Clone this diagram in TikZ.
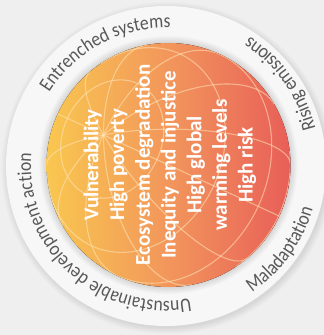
\documentclass[tikz,border=0pt]{standalone}
\usepackage{fontspec}
\setmainfont{Carlito}
\newfontfamily\ringfont[FakeStretch=0.88]{Carlito}
\usetikzlibrary{decorations.text}
\definecolor{bg}{RGB}{239,239,239}
\definecolor{ringfill}{RGB}{247,247,247}
\definecolor{ringtext}{RGB}{88,88,88}
\definecolor{gy}{RGB}{249,199,79}
\definecolor{go}{RGB}{242,150,92}
\definecolor{gr}{RGB}{232,94,88}
\definecolor{gridline}{RGB}{255,230,185}
\begin{document}
\begin{tikzpicture}[x=1pt,y=1pt,
  ringlabel/.style={decorate, decoration={text along path, text align=center,
     text={|\ringfont\fontsize{20}{22}\selectfont\color{ringtext}|#1}}},
  globeline/.style={draw=gridline, line width=1.1pt, opacity=0.55},
]
\path[fill=bg] (0,0) rectangle (324,335);
\path[use as bounding box] (0,0) rectangle (324,335);
\coordinate (O) at (166,169);
\coordinate (I) at (168.5,170);
% outer shadow
\foreach \k in {1,...,8}{\fill[black, opacity=0.012] ([shift={(1.5,-2)}]O) circle (159+\k*0.9);}
\fill[ringfill] (O) circle (160);
% inner halo
\foreach \k in {1,...,8}{\fill[black, opacity=0.016] (I) circle (122+\k*0.9);}
% globe
\fill[left color=gy, right color=gr, middle color=go] (I) circle (122);
\begin{scope}[shift={(168.5,170)}]
\clip (0,0) circle (122);
\foreach \l in {0,30,...,150}{
  \pgfmathsetmacro\ux{cos(\l)*0.419 - sin(\l)*0.735}
  \pgfmathsetmacro\uy{cos(\l)*0.908 + sin(\l)*0.339}
  \pgfmathsetmacro\ph{atan2(0.81, -0.587*sin(\l))}
  \pgfmathsetmacro\ta{\ph-90}
  \pgfmathsetmacro\tb{\ph+90}
  \draw[globeline] plot[domain=\ta:\tb, samples=50, variable=\t]
    ({122*(cos(\t)*\ux - 0.533*sin(\t))},{122*(cos(\t)*\uy + 0.246*sin(\t))});
}
\foreach \L/\a/\b in {-30/232.8/307.2, 0/180/360, 30/127.2/412.8, 60/0/360}{
  \pgfmathsetmacro\cL{cos(\L)}
  \pgfmathsetmacro\sL{sin(\L)}
  \draw[globeline] plot[domain=\a:\b, samples=80, variable=\t]
    ({122*(\cL*(0.419*cos(\t) - 0.735*sin(\t)) - 0.533*(\sL))},
     {122*(\cL*(0.908*cos(\t) + 0.339*sin(\t)) + 0.246*(\sL))});
}
\end{scope}
% inner text
\node[rotate=90, align=center, text=white, inner sep=0pt,
      font=\fontsize{21}{25.7}\selectfont\bfseries] (txt) at (170,170)
  {Vulnerability\\High poverty\\Ecosystem degradation\\Inequity and injustice\\High global\\warming levels\\High risk};
% ring labels
\path[ringlabel={Entrenched systems}] (O) ++(168:138) arc[start angle=168, end angle=68, radius=138];
\path[ringlabel={Unsustainable development action}] (O) ++(292.5:135) arc[start angle=292.5, end angle=162.5, radius=135];
\path[ringlabel={Rising emissions}] (O) ++(-4.5:154) arc[start angle=-4.5, end angle=75.5, radius=154];
\path[ringlabel={Maladaptation}] (O) ++(-70:153) arc[start angle=-70, end angle=-2, radius=153];
\end{tikzpicture}
\end{document}
